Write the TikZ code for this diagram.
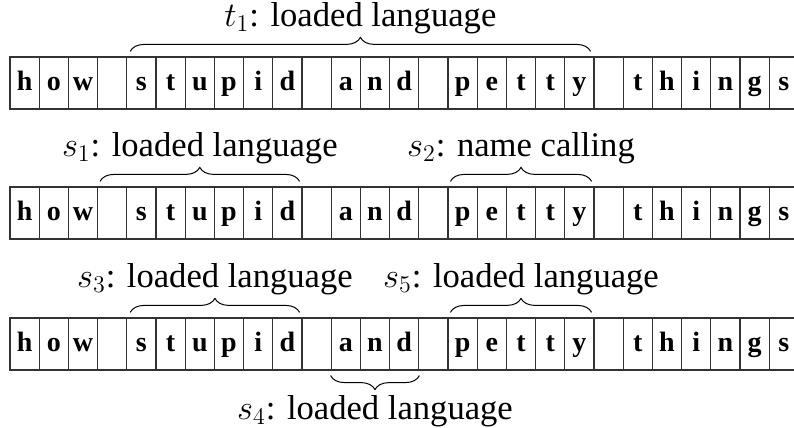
\documentclass[tikz,border=0pt]{standalone}
\usepackage{fontspec}
\setmainfont{Liberation Serif}
\usetikzlibrary{decorations.pathreplacing,positioning}
\tikzset{
  cell/.style={draw=black!80, line width=0.6pt, minimum width=14.6pt, minimum height=26pt,
    inner sep=0pt, text height=1.6ex, text depth=0pt, font=\fontsize{14}{16}\selectfont\bfseries},
  span/.style={decorate, decoration={brace, amplitude=7pt, raise=2.5pt}, line width=0.5pt},
  spanlow/.style={decorate, decoration={brace, mirror, amplitude=7pt, raise=2.5pt}, line width=0.5pt},
  tag/.style={inner sep=0pt, font=\fontsize{17.3}{20}\selectfont}
}
\begin{document}
\begin{tikzpicture}[x=0.5pt,y=-0.5pt]
\clip (0,0) rectangle (794,428);
% the three rows of characters
\foreach \r/\yy in {1/83,2/213,3/344}{
  \foreach \ch [count=\i from 0] in {h,o,w,{},s,t,u,p,i,d,{},a,n,d,{},p,e,t,t,y,{},t,h,i,n,g,s}
    \node[cell] (r\r-\i) at ({24.6+29.2*\i},\yy) {\ch};
}
% row 1
\draw[span] ([xshift=2pt]r1-4.north west) -- ([xshift=-2pt]r1-19.north east)
  node[tag, midway, above=11pt] {$t_1$: loaded language};
% row 2
\draw[span] ([xshift=1.5pt]r2-3.north west) -- ([xshift=-1.5pt]r2-9.north east)
  node[tag, midway, above=11pt] {$s_1$: loaded language};
\draw[span] ([xshift=1.5pt]r2-15.north west) -- ([xshift=-1.5pt]r2-19.north east)
  node[tag, midway, above=11pt] {$s_2$: name calling};
% row 3
\draw[span] ([xshift=2pt]r3-4.north west) -- ([xshift=-1.5pt]r3-9.north east)
  node[tag, midway, above=11pt] {$s_3$: loaded language};
\draw[span] ([xshift=1.5pt]r3-15.north west) -- ([xshift=-1.5pt]r3-19.north east)
  node[tag, midway, above=11pt] {$s_5$: loaded language};
\draw[spanlow] (r3-11.south west) -- (r3-13.south east)
  node[tag, midway, below=12pt] {$s_4$: loaded language};
\end{tikzpicture}
\end{document}
